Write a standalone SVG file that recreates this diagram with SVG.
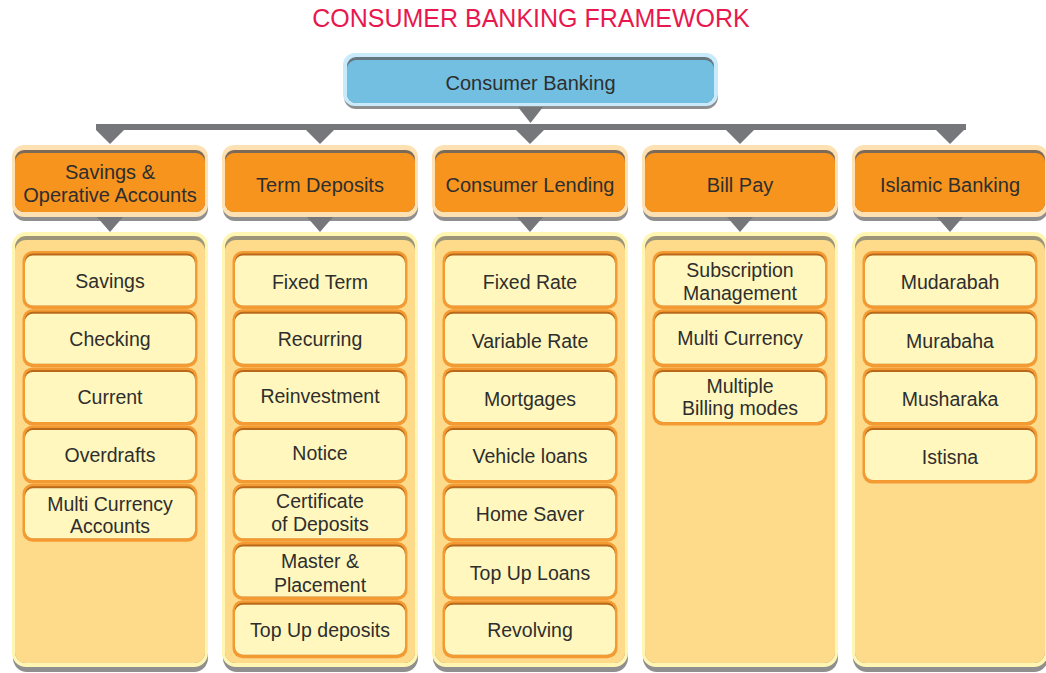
<svg xmlns="http://www.w3.org/2000/svg" width="1046" height="673" viewBox="0 0 1046 673">
<style>
.sh{fill:#8f8f8f}
.top-o{fill:#c8eafa}.top-d{fill:#66767f}.top-f{fill:#72bfe1}
.cat-o{fill:#fde1b2}.cat-d{fill:#7c6a58}.cat-f{fill:#f7941e}
.pan-o{fill:#fff6b4}.pan-d{fill:#9d957a}.pan-f{fill:#fddb8b}
.it-o{fill:#f39b32}.it-d{fill:#b8691a}.it-f{fill:#fff7bd}
.conn{fill:#76777b}
text{font-family:"Liberation Sans",Arial,Helvetica,sans-serif;fill:#2e2e2e;text-anchor:middle}
.t20{font-size:20px}
.t19{font-size:19.5px}
.title{font-size:25px;fill:#e8184f}
</style>
<defs>
<g id="cat">
<rect class="sh" x="1" y="4" width="195" height="72" rx="12"/>
<rect class="cat-o" x="0" y="0" width="196" height="72" rx="12"/>
<rect class="cat-d" x="3" y="5" width="190" height="62" rx="9"/>
<rect class="cat-f" x="3" y="8" width="190" height="59" rx="9"/>
</g>
<g id="pan">
<rect class="sh" x="1" y="5" width="195" height="435" rx="14"/>
<rect class="pan-o" x="0" y="0" width="196" height="435" rx="14"/>
<rect class="pan-d" x="3" y="4" width="190" height="427" rx="11"/>
<rect class="pan-f" x="3" y="8" width="190" height="423" rx="11"/>
</g>
<g id="item">
<rect class="it-o" x="0" y="0" width="175" height="58" rx="10"/>
<rect class="it-d" x="2.5" y="2.5" width="170" height="52" rx="8"/>
<rect class="it-f" x="2.5" y="4.5" width="170" height="50" rx="8"/>
</g>
</defs>

<text class="title" x="531" y="27">CONSUMER BANKING FRAMEWORK</text>

<g id="node-consumer-banking">
<rect class="sh" x="344" y="57" width="374" height="52" rx="12"/>
<rect class="top-o" x="343" y="53" width="375" height="53" rx="12"/>
<rect class="top-d" x="347" y="57" width="367" height="46" rx="9"/>
<rect class="top-f" x="347" y="60" width="367" height="43" rx="9"/>
<text class="t20" x="530.5" y="90">Consumer Banking</text>
</g>

<g id="connectors">
<polygon class="conn" points="518,107 543,107 530.5,123"/>
<rect class="conn" x="96" y="124" width="870" height="6"/>
<polygon class="conn" points="96,130 124,130 110,144"/>
<polygon class="conn" points="306,130 334,130 320,144"/>
<polygon class="conn" points="516,130 544,130 530,144"/>
<polygon class="conn" points="726,130 754,130 740,144"/>
<polygon class="conn" points="936,130 964,130 950,144"/>
</g>

<!-- Column 1 -->
<g id="cat-savings">
<use href="#cat" x="12" y="145"/>
<text class="t20" x="110" y="179">Savings &amp;</text>
<text class="t20" x="110" y="202">Operative Accounts</text>
</g>
<g id="cat-term">
<use href="#cat" x="222" y="145"/>
<text class="t20" x="320" y="192">Term Deposits</text>
</g>
<g id="cat-lending">
<use href="#cat" x="432" y="145"/>
<text class="t20" x="530" y="192">Consumer Lending</text>
</g>
<g id="cat-billpay">
<use href="#cat" x="642" y="145"/>
<text class="t20" x="740" y="192">Bill Pay</text>
</g>
<g id="cat-islamic">
<use href="#cat" x="852" y="145"/>
<text class="t20" x="950" y="192">Islamic Banking</text>
</g>

<g id="connectors-2">
<polygon class="conn" points="97,217 123,217 110,232"/>
<polygon class="conn" points="307,217 333,217 320,232"/>
<polygon class="conn" points="517,217 543,217 530,232"/>
<polygon class="conn" points="727,217 753,217 740,232"/>
<polygon class="conn" points="937,217 963,217 950,232"/>
</g>

<g id="panel-savings">
<use href="#pan" x="12" y="232"/>
<g id="it-savings"><use href="#item" x="22.5" y="251"/><text class="t19" x="110" y="288">Savings</text></g>
<g id="it-checking"><use href="#item" x="22.5" y="309.2"/><text class="t19" x="110" y="346">Checking</text></g>
<g id="it-current"><use href="#item" x="22.5" y="367.4"/><text class="t19" x="110" y="404">Current</text></g>
<g id="it-overdrafts"><use href="#item" x="22.5" y="425.6"/><text class="t19" x="110" y="462">Overdrafts</text></g>
<g id="it-multicur"><use href="#item" x="22.5" y="483.8"/><text class="t19" x="110" y="511">Multi Currency</text><text class="t19" x="110" y="533">Accounts</text></g>
</g>

<g id="panel-term">
<use href="#pan" x="222" y="232"/>
<g id="it-fixedterm"><use href="#item" x="232.5" y="251"/><text class="t19" x="320" y="289">Fixed Term</text></g>
<g id="it-recurring"><use href="#item" x="232.5" y="309.2"/><text class="t19" x="320" y="346">Recurring</text></g>
<g id="it-reinvest"><use href="#item" x="232.5" y="367.4"/><text class="t19" x="320" y="403">Reinvestment</text></g>
<g id="it-notice"><use href="#item" x="232.5" y="425.6"/><text class="t19" x="320" y="460">Notice</text></g>
<g id="it-cert"><use href="#item" x="232.5" y="483.8"/><text class="t19" x="320" y="508">Certificate</text><text class="t19" x="320" y="531">of Deposits</text></g>
<g id="it-master"><use href="#item" x="232.5" y="542"/><text class="t19" x="320" y="568">Master &amp;</text><text class="t19" x="320" y="592">Placement</text></g>
<g id="it-topupdep"><use href="#item" x="232.5" y="600.2"/><text class="t19" x="320" y="637">Top Up deposits</text></g>
</g>

<g id="panel-lending">
<use href="#pan" x="432" y="232"/>
<g id="it-fixedrate"><use href="#item" x="442.5" y="251"/><text class="t19" x="530" y="289">Fixed Rate</text></g>
<g id="it-variable"><use href="#item" x="442.5" y="309.2"/><text class="t19" x="530" y="348">Variable Rate</text></g>
<g id="it-mortgages"><use href="#item" x="442.5" y="367.4"/><text class="t19" x="530" y="406">Mortgages</text></g>
<g id="it-vehicle"><use href="#item" x="442.5" y="425.6"/><text class="t19" x="530" y="463">Vehicle loans</text></g>
<g id="it-homesaver"><use href="#item" x="442.5" y="483.8"/><text class="t19" x="530" y="521">Home Saver</text></g>
<g id="it-topuploans"><use href="#item" x="442.5" y="542"/><text class="t19" x="530" y="580">Top Up Loans</text></g>
<g id="it-revolving"><use href="#item" x="442.5" y="600.2"/><text class="t19" x="530" y="637">Revolving</text></g>
</g>

<g id="panel-billpay">
<use href="#pan" x="642" y="232"/>
<g id="it-subscription"><use href="#item" x="652.5" y="251"/><text class="t19" x="740" y="277">Subscription</text><text class="t19" x="740" y="300">Management</text></g>
<g id="it-multicur2"><use href="#item" x="652.5" y="309.2"/><text class="t19" x="740" y="345">Multi Currency</text></g>
<g id="it-billing"><use href="#item" x="652.5" y="367.4"/><text class="t19" x="740" y="393">Multiple</text><text class="t19" x="740" y="415">Billing modes</text></g>
</g>

<g id="panel-islamic">
<use href="#pan" x="852" y="232"/>
<g id="it-mudarabah"><use href="#item" x="862.5" y="251"/><text class="t19" x="950" y="289">Mudarabah</text></g>
<g id="it-murabaha"><use href="#item" x="862.5" y="309.2"/><text class="t19" x="950" y="348">Murabaha</text></g>
<g id="it-musharaka"><use href="#item" x="862.5" y="367.4"/><text class="t19" x="950" y="406">Musharaka</text></g>
<g id="it-istisna"><use href="#item" x="862.5" y="425.6"/><text class="t19" x="950" y="464">Istisna</text></g>
</g>
</svg>
